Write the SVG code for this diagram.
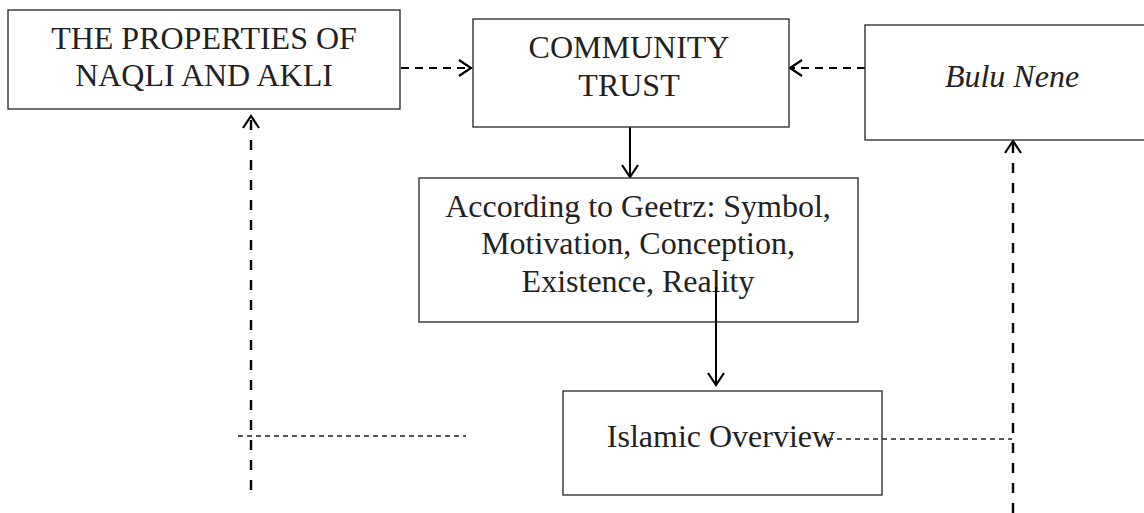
<svg xmlns="http://www.w3.org/2000/svg" width="1144" height="513" viewBox="0 0 1144 513">
<style>
.box{fill:#fff;stroke:#333;stroke-width:1.4}
.t{font-family:"Liberation Serif","Times New Roman",serif;font-size:32px;fill:#222;text-anchor:middle}
.it{font-style:italic}
.solid{stroke:#000;stroke-width:2;fill:none}
.dash{stroke:#000;stroke-width:2.4;fill:none;stroke-dasharray:10 10}
.dashh{stroke:#000;stroke-width:2.2;fill:none;stroke-dasharray:8 6}
.thin{stroke:#222;stroke-width:1.3;fill:none;stroke-dasharray:5 4}
</style>
<defs>
<marker id="arr" markerUnits="userSpaceOnUse" markerWidth="18" markerHeight="20" refX="13" refY="10" orient="auto" overflow="visible">
<path d="M1,2 L13,10 L1,18" fill="none" stroke="#000" stroke-width="2.2" stroke-dasharray="none"/>
</marker>
</defs>
<rect width="1144" height="513" fill="#fff"/>
<g id="connectors">
<line class="dashh" x1="401" y1="68" x2="471" y2="68" marker-end="url(#arr)"/>
<line class="dashh" x1="865" y1="68" x2="790" y2="68" marker-end="url(#arr)"/>
<line class="solid" x1="630" y1="127" x2="630" y2="177" marker-end="url(#arr)"/>
<line class="solid" x1="716" y1="287" x2="716" y2="385" marker-end="url(#arr)"/>
<line class="dash" x1="251" y1="490" x2="251" y2="116" marker-end="url(#arr)"/>
<line class="dash" x1="1013" y1="513" x2="1013" y2="141" marker-end="url(#arr)"/>
<line class="thin" x1="238" y1="436" x2="466" y2="436"/>
</g>
<g id="n1">
<rect class="box" x="8" y="10" width="392" height="99"/>
<text class="t" x="204" y="49">THE PROPERTIES OF</text>
<text class="t" x="204" y="86">NAQLI AND AKLI</text>
</g>
<g id="n2">
<rect class="box" x="473" y="19" width="316" height="108"/>
<text class="t" x="629" y="58">COMMUNITY</text>
<text class="t" x="629" y="96">TRUST</text>
</g>
<g id="n3">
<rect class="box" x="865" y="25" width="290" height="115"/>
<text class="t it" x="1012" y="87">Bulu Nene</text>
</g>
<g id="n4">
<rect class="box" x="419" y="178" width="439" height="144"/>
<text class="t" x="638" y="217">According to Geetrz: Symbol,</text>
<text class="t" x="638" y="254">Motivation, Conception,</text>
<text class="t" x="638" y="292">Existence, Reality</text>
</g>
<line class="solid" x1="716" y1="287" x2="716" y2="322"/>
<g id="n5">
<rect class="box" x="563" y="391" width="319" height="104"/>
<text class="t" x="721" y="447">Islamic Overview</text>
</g>
<line class="thin" x1="828" y1="439" x2="1012" y2="439"/>
</svg>
